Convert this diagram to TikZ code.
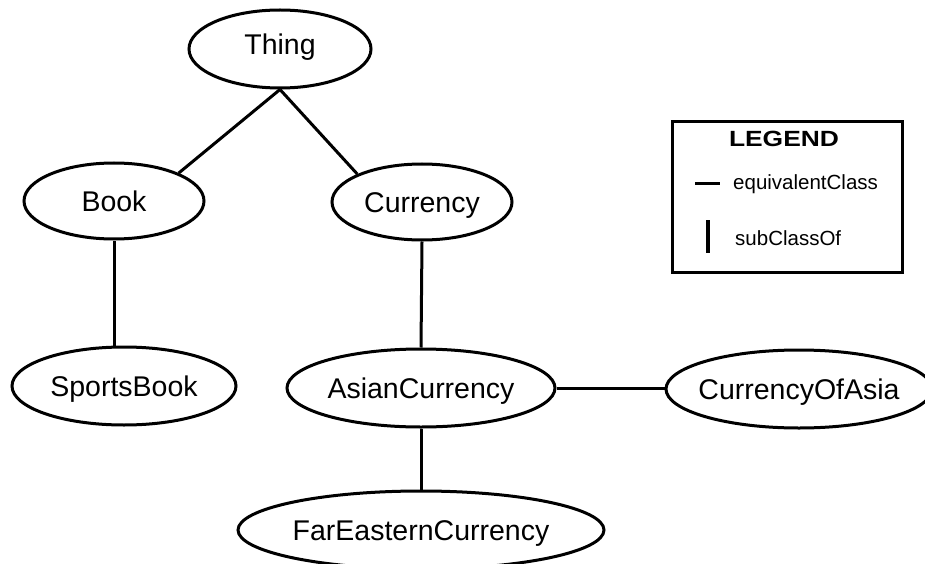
\documentclass[tikz,border=0pt]{standalone}
\usepackage{fontspec}
\setmainfont{Liberation Sans}
\usetikzlibrary{shapes.geometric}
\begin{document}
\begin{tikzpicture}[x=1pt,y=-1pt,
  cls/.style={draw, ellipse, line width=3pt, inner ysep=0pt, inner xsep=-20pt,
              text height=20pt, text depth=0pt,
              font=\fontsize{28.5}{30}\selectfont},
  rel/.style={line width=3pt},
  legendbox/.style={draw, line width=3pt, rectangle, inner sep=0pt,
                    minimum width=230pt, minimum height=150pt},
  legendtext/.style={anchor=west, inner sep=0pt,
                     font=\fontsize{20.5}{22}\selectfont}]
\useasboundingbox (0,0) rectangle (925,564);

% class nodes
\node[cls, minimum width=182pt, minimum height=78pt, text depth=8pt] (thing) at (280,49) {Thing};
\node[cls, minimum width=180pt, minimum height=76pt] (book) at (114,201) {Book};
\node[cls, minimum width=180pt, minimum height=76pt] (currency) at (422,202) {Currency};
\node[cls, minimum width=224pt, minimum height=78pt] (sports) at (124,386) {SportsBook};
\node[cls, minimum width=268pt, minimum height=78pt] (asian) at (421,388) {AsianCurrency};
\node[cls, minimum width=266pt, minimum height=78pt] (ofasia) at (799,389) {CurrencyOfAsia};
\node[cls, minimum width=366pt, minimum height=78pt] (fareast) at (421,530) {FarEasternCurrency};

% relations
\draw[rel] (thing.south) -- (book.north east);
\draw[rel] (thing.south) -- (currency.north west);
\draw[rel] (book.south) -- (book.south |- sports.north);
\draw[rel] (currency.south) -- (asian.north);
\draw[rel] (asian.south) -- (fareast.north);
\draw[rel] (asian.east) -- (asian.east -| ofasia.west);

% legend
\node[legendbox] (legend) at (787,197) {};
\node[inner sep=0pt, font=\bfseries\fontsize{22}{24}\selectfont] (legendtitle) at (784,139)
  {\scalebox{1.2}[1]{LEGEND}};
\coordinate (eqa) at (695,183);
\coordinate (eqb) at (720,183);
\draw[line width=3pt] (eqa) -- (eqb);
\node[legendtext] (eqtext) at (733,184) {equivalentClass};
\coordinate (sba) at (708,220);
\coordinate (sbb) at (708,253);
\draw[line width=3.5pt] (sba) -- (sbb);
\node[legendtext] (sbtext) at (735,238) {subClassOf};
\end{tikzpicture}
\end{document}
